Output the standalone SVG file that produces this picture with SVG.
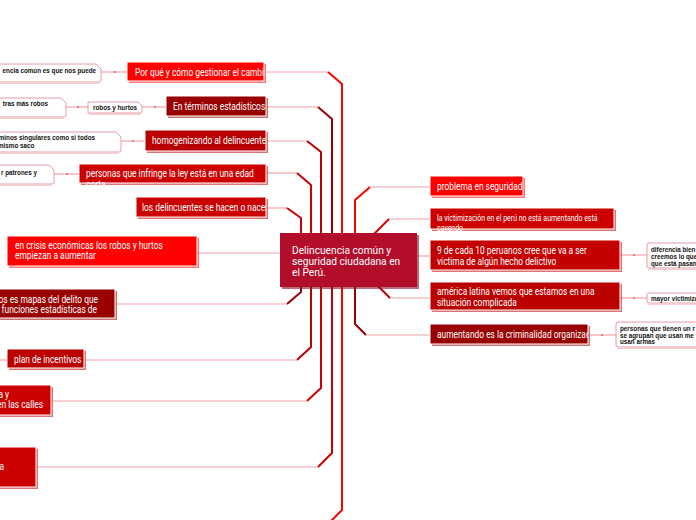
<svg xmlns="http://www.w3.org/2000/svg" width="696" height="520" viewBox="0 0 696 520">
<style>
.t{font-family:Roboto,"Liberation Sans",sans-serif;font-size:10px;fill:#fff}
.ts{font-family:Roboto,"Liberation Sans",sans-serif;font-size:8.3px;fill:#fff}
.tc{font-family:Roboto,"Liberation Sans",sans-serif;font-size:10.2px;fill:#fff}
.lt{font-family:"Liberation Sans",Arial,sans-serif;font-size:6.3px;font-weight:bold;fill:#111}
.box{stroke:#fff;stroke-width:1}
.sh{opacity:0.55}
.leaf{fill:#fff;stroke:#e79aa3;stroke-width:1}
.leafsh{fill:none;stroke:#f6cdd2;stroke-width:1}
.pk{fill:none;stroke:#f3a2a6;stroke-width:1.2}
.tr{fill:none;stroke-width:2;stroke-linejoin:round}
.dot{fill:#d9707a}
</style>
<defs>
<clipPath id="c1"><rect x="127" y="60" width="137" height="25"/></clipPath>
<clipPath id="c2"><rect x="166" y="94" width="100" height="25"/></clipPath>
<clipPath id="c3"><rect x="145" y="128" width="121" height="26"/></clipPath>
<clipPath id="c4"><rect x="79" y="162" width="189" height="23"/></clipPath>
<clipPath id="c5"><rect x="136" y="195" width="130" height="25"/></clipPath>
<clipPath id="c6"><rect x="430" y="206" width="186" height="25"/></clipPath>
<clipPath id="c7"><rect x="430" y="322" width="158" height="25"/></clipPath>
</defs>

<g id="connectors">
  <path class="pk" d="M266 72 H328"/>
  <path class="tr" stroke="#ff0000" d="M328 72 L342 84 V260"/>
  <path class="pk" d="M267 107 H318"/>
  <path class="tr" stroke="#990000" d="M318 107 L332 119 V260"/>
  <path class="pk" d="M267 141 H307"/>
  <path class="tr" stroke="#b80000" d="M307 141 L321 152 V260"/>
  <path class="pk" d="M267 173 H297"/>
  <path class="tr" stroke="#cc0000" d="M297 173 L311 185 V260"/>
  <path class="pk" d="M267 208 H287"/>
  <path class="tr" stroke="#cc0000" d="M287 208 L301 218 V260"/>
  <path class="pk" d="M198 253 H282"/>
  <path class="tr" stroke="#990000" d="M301 270 V292 L287 304"/>
  <path class="pk" d="M287 304 H117"/>
  <path class="tr" stroke="#bb0000" d="M311 270 V347 L297 360"/>
  <path class="pk" d="M297 360 H86"/>
  <path class="pk" d="M0 360 H7"/>
  <path class="tr" stroke="#cc0000" d="M321 270 V388 L307 401"/>
  <path class="pk" d="M307 401 H53"/>
  <path class="tr" stroke="#cc0000" d="M332 270 V453 L318 467"/>
  <path class="pk" d="M318 467 H38"/>
  <path class="tr" stroke="#ff0000" d="M342 270 V510 L330 522"/>
  <path class="tr" stroke="#ff0000" d="M355 255 V200 L370 187"/>
  <path class="pk" d="M370 187 H430"/>
  <path class="tr" stroke="#cc0000" d="M372 236 L389 219"/>
  <path class="pk" d="M389 219 H430"/>
  <path class="pk" d="M416 256 H430"/>
  <path class="tr" stroke="#bb0000" d="M376 284 L390 298"/>
  <path class="pk" d="M390 298 H430"/>
  <path class="tr" stroke="#990000" d="M355 270 V324 L366 335"/>
  <path class="pk" d="M366 335 H430"/>
  <path class="pk" d="M101 72 H127"/><circle class="dot" cx="115" cy="72" r="1.1"/>
  <path class="pk" d="M66 107 H88"/><circle class="dot" cx="78" cy="107" r="1.1"/>
  <path class="pk" d="M142 107 H166"/><circle class="dot" cx="155" cy="107" r="1.1"/>
  <path class="pk" d="M121 141 H145"/><circle class="dot" cx="133" cy="141" r="1.1"/>
  <path class="pk" d="M54 174 H79"/><circle class="dot" cx="67" cy="174" r="1.1"/>
  <path class="pk" d="M620 255 H647"/><circle class="dot" cx="634" cy="255" r="1.1"/>
  <path class="pk" d="M620 298 H647"/><circle class="dot" cx="634" cy="298" r="1.1"/>
  <path class="pk" d="M588 335 H616"/><circle class="dot" cx="602" cy="335" r="1.1"/>
</g>

<g id="center">
  <rect x="282" y="235" width="137" height="54" fill="#8c0a22" opacity="0.6"/>
  <rect x="280" y="233" width="137" height="54" fill="#b20d2b"/>
  <text class="tc" x="292" y="253.5">Delincuencia común y</text>
  <text class="tc" x="292" y="264.5">seguridad ciudadana en</text>
  <text class="tc" x="292" y="275.5">el Perú.</text>
</g>

<g id="n-porque">
  <rect class="sh" x="129" y="64" width="137" height="19" fill="#ff0000"/>
  <rect class="box" x="127" y="62" width="137" height="19" fill="#ff0000"/>
  <g clip-path="url(#c1)"><text class="t" transform="translate(135,75.5) scale(0.84,1)">Por qué y cómo gestionar el cambio</text></g>
</g>
<g id="n-terminos">
  <rect class="sh" x="168" y="98" width="100" height="20" fill="#990000"/>
  <rect class="box" x="166" y="96" width="100" height="20" fill="#990000"/>
  <g clip-path="url(#c2)"><text class="t" transform="translate(173,109.5) scale(0.84,1)">En términos estadísticos</text></g>
</g>
<g id="n-homog">
  <rect class="sh" x="147" y="132" width="121" height="21" fill="#b80000"/>
  <rect class="box" x="145" y="130" width="121" height="21" fill="#b80000"/>
  <g clip-path="url(#c3)"><text class="t" transform="translate(152,144) scale(0.84,1)">homogenizando al delincuente</text></g>
</g>
<g id="n-personas">
  <rect class="sh" x="81" y="166" width="187" height="19" fill="#cc0000"/>
  <rect class="box" x="79" y="164" width="187" height="19" fill="#cc0000"/>
  <g clip-path="url(#c4)">
    <text class="t" transform="translate(86,177) scale(0.84,1)">personas que infringe la ley está en una edad</text>
    <text class="t" transform="translate(86,187.5) scale(0.84,1)">corta</text>
  </g>
</g>
<g id="n-delincuentes">
  <rect class="sh" x="138" y="199" width="130" height="20" fill="#cc0000"/>
  <rect class="box" x="136" y="197" width="130" height="20" fill="#cc0000"/>
  <g clip-path="url(#c5)"><text class="t" transform="translate(142,210.5) scale(0.84,1)">los delincuentes se hacen o nacen</text></g>
</g>
<g id="n-crisis">
  <rect class="sh" x="9" y="238" width="190" height="30" fill="#ff0000"/>
  <rect class="box" x="7" y="236" width="190" height="30" fill="#ff0000"/>
  <text class="t" transform="translate(15,249) scale(0.84,1)">en crisis económicas los robos y hurtos</text>
  <text class="t" transform="translate(15,259) scale(0.84,1)">empiezan a aumentar</text>
</g>
<g id="n-mapas">
  <rect class="sh" x="-3" y="291" width="120" height="29" fill="#990000"/>
  <rect class="box" x="-5" y="289" width="120" height="29" fill="#990000"/>
  <text class="t" text-anchor="end" transform="translate(98,302.5) scale(0.84,1)">os es mapas del delito que</text>
  <text class="t" text-anchor="end" transform="translate(97,312.5) scale(0.84,1)">funciones estadísticas de</text>
</g>
<g id="n-plan">
  <rect class="sh" x="9" y="351" width="77" height="19" fill="#bb0000"/>
  <rect class="box" x="7" y="349" width="77" height="19" fill="#bb0000"/>
  <text class="t" transform="translate(14,362.5) scale(0.84,1)">plan de incentivos</text>
</g>
<g id="n-calles">
  <rect class="sh" x="-3" y="387" width="56" height="30" fill="#cc0000"/>
  <rect class="box" x="-5" y="385" width="56" height="30" fill="#cc0000"/>
  <text class="t" text-anchor="end" transform="translate(9,398) scale(0.84,1)">a y</text>
  <text class="t" text-anchor="end" transform="translate(43,408) scale(0.84,1)">en las calles</text>
</g>
<g id="n-a">
  <rect class="sh" x="-3" y="449" width="41" height="40" fill="#cc0000"/>
  <rect class="box" x="-5" y="447" width="41" height="40" fill="#cc0000"/>
  <text class="t" text-anchor="end" transform="translate(4,470) scale(0.84,1)">a</text>
</g>

<g id="l-comun">
  <path class="leafsh" d="M-5 83.5 H99"/>
  <path class="leaf" d="M-5 64 H96 L101 69 V80 Q101 82 99 82 H-5 Z"/>
  <text class="lt" x="96" y="72.5" text-anchor="end">encia común es que nos puede</text>
</g>
<g id="l-robos">
  <path class="leafsh" d="M-5 118.5 H64"/>
  <path class="leaf" d="M-5 98 H61 L66 103 V115 Q66 117 64 117 H-5 Z"/>
  <text class="lt" x="48" y="105.5" text-anchor="end">tras más robos</text>
</g>
<g id="l-robosyhurtos">
  <path class="leafsh" d="M89 114.5 H141"/>
  <path class="leaf" d="M88 102 H138 L142 106 V111 Q142 113 140 113 H88 Z"/>
  <text class="lt" x="93" y="110">robos y hurtos</text>
</g>
<g id="l-singulares">
  <path class="leafsh" d="M-5 153.5 H119"/>
  <path class="leaf" d="M-5 132 H116 L121 137 V150 Q121 152 119 152 H-5 Z"/>
  <text class="lt" x="95" y="139.5" text-anchor="end">minos singulares como si todos</text>
  <text class="lt" x="-2" y="147.5">mismo saco</text>
</g>
<g id="l-patrones">
  <path class="leafsh" d="M-5 185.5 H52"/>
  <path class="leaf" d="M-5 165 H49 L54 170 V182 Q54 184 52 184 H-5 Z"/>
  <text class="lt" x="37" y="174.5" text-anchor="end">r patrones y</text>
</g>

<g id="n-problema">
  <rect class="sh" x="432" y="178" width="93" height="20" fill="#ff0000"/>
  <rect class="box" x="430" y="176" width="93" height="20" fill="#ff0000"/>
  <text class="t" transform="translate(437,189.5) scale(0.84,1)">problema en seguridad</text>
</g>
<g id="n-victimizacion">
  <rect class="sh" x="432" y="210" width="184" height="21" fill="#cc0000"/>
  <rect class="box" x="430" y="208" width="184" height="21" fill="#cc0000"/>
  <g clip-path="url(#c6)">
    <text class="ts" transform="translate(437,221) scale(0.84,1)">la victimización en el perú no está aumentando está</text>
    <text class="ts" transform="translate(437,231) scale(0.84,1)">cayendo</text>
  </g>
</g>
<g id="n-nueve">
  <rect class="sh" x="432" y="242" width="190" height="30" fill="#c40000"/>
  <rect class="box" x="430" y="240" width="190" height="30" fill="#c40000"/>
  <text class="t" transform="translate(437,253.5) scale(0.84,1)">9 de cada 10 peruanos cree que va a ser</text>
  <text class="t" transform="translate(437,264.5) scale(0.84,1)">víctima de algún hecho delictivo</text>
</g>
<g id="n-america">
  <rect class="sh" x="432" y="284" width="190" height="28" fill="#bb0000"/>
  <rect class="box" x="430" y="282" width="190" height="28" fill="#bb0000"/>
  <text class="t" transform="translate(437,294.5) scale(0.84,1)">américa latina vemos que estamos en una</text>
  <text class="t" transform="translate(437,305.5) scale(0.84,1)">situación complicada</text>
</g>
<g id="n-aumentando">
  <rect class="sh" x="432" y="326" width="158" height="20" fill="#990000"/>
  <rect class="box" x="430" y="324" width="158" height="20" fill="#990000"/>
  <g clip-path="url(#c7)"><text class="t" transform="translate(437,337.5) scale(0.84,1)">aumentando es la criminalidad organizada</text></g>
</g>

<g id="l-diferencia">
  <path class="leafsh" d="M648 269.5 H700"/>
  <rect class="leaf" x="647" y="243" width="60" height="25" rx="2"/>
  <text class="lt" x="651" y="251.5">diferencia bien</text>
  <text class="lt" x="651" y="258.5">creemos lo que</text>
  <text class="lt" x="651" y="265.5">que está pasan</text>
</g>
<g id="l-mayor">
  <path class="leafsh" d="M648 304.5 H700"/>
  <rect class="leaf" x="647" y="293" width="60" height="10" rx="2"/>
  <text class="lt" x="651" y="300.5">mayor victimiza</text>
</g>
<g id="l-personas">
  <path class="leafsh" d="M617 348.5 H700"/>
  <rect class="leaf" x="616" y="322" width="90" height="25" rx="2"/>
  <text class="lt" x="620" y="331">personas que tienen un r</text>
  <text class="lt" x="620" y="337.5">se agrupan que usan me</text>
  <text class="lt" x="620" y="344">usan armas</text>
</g>
</svg>
